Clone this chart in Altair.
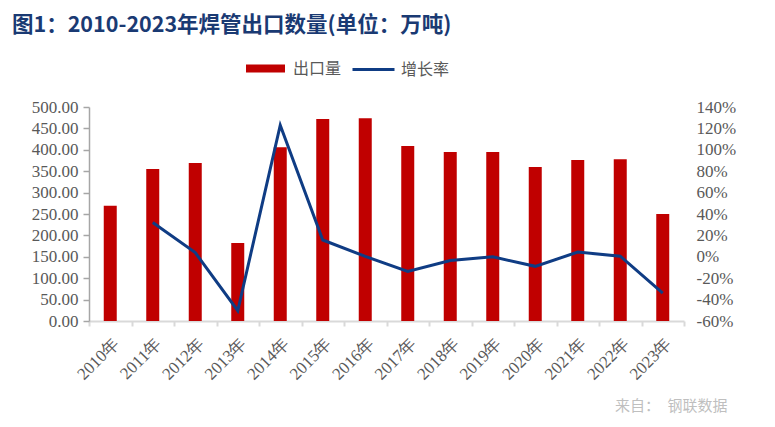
import altair as alt
import pandas as pd

years = ["2010年", "2011年", "2012年", "2013年", "2014年", "2015年", "2016年",
         "2017年", "2018年", "2019年", "2020年", "2021年", "2022年", "2023年"]
export_volume = [269, 355, 369, 182, 406, 472, 474, 409, 395, 395, 360, 376, 378, 250]
growth_rate = [None, 32.0, 3.9, -50.4, 123.0, 15.7, 0.4, -13.7, -3.5, 0.0, -8.9, 4.4, 0.6, -33.9]
left_ticks = [0, 50, 100, 150, 200, 250, 300, 350, 400, 450, 500]
right_ticks = [-60, -40, -20, 0, 20, 40, 60, 80, 100, 120, 140]

df = pd.DataFrame({"year": years, "export": export_volume, "growth": growth_rate})

LABEL_FONT = "Liberation Serif"
CJK_FONT = "Noto Sans CJK SC"
GRAY = "#595959"

x = alt.X(
    "year:N", sort=years,
    scale=alt.Scale(paddingInner=0, paddingOuter=0),
    axis=alt.Axis(
        title="来自：\u3000钢联数据", titleX=638, titleY=84, titleAlign="right",
        titleBaseline="middle", titleFont=CJK_FONT, titleFontSize=15,
        titleFontWeight="normal", titleColor="#bfbfbf",
        labelAngle=-45, labelAlign="right", labelBaseline="top",
        labelFont=LABEL_FONT, labelFontSize=17, labelColor=GRAY, labelPadding=9,
        domainColor="#d9d9d9", domainWidth=2, tickColor="#d9d9d9", tickWidth=2,
        tickSize=5, tickBand="extent", grid=False,
    ),
)

bars = alt.Chart(df).mark_bar(size=13).encode(
    x=x,
    y=alt.Y(
        "export:Q",
        scale=alt.Scale(domain=[0, 500], nice=False),
        axis=alt.Axis(
            values=left_ticks, format=".2f", title=None, grid=False,
            domainColor="#a6a6a6", domainWidth=1.5, tickColor="#a6a6a6",
            tickWidth=1.5, tickSize=6, labelFont=LABEL_FONT, labelFontSize=17,
            labelColor=GRAY, labelPadding=5,
        ),
    ),
    fill=alt.Fill(
        "s:N",
        scale=alt.Scale(domain=["出口量"], range=["#c00000"]),
        legend=alt.Legend(
            title=None, orient="none", legendX=157, legendY=-58,
            symbolType="M-1,-0.2L1,-0.2L1,0.2L-1,0.2Z", symbolSize=1521,
            symbolStrokeWidth=0, labelFont=CJK_FONT, labelFontSize=16,
            labelColor=GRAY, labelOffset=8, padding=0,
        ),
    ),
).transform_calculate(s="'出口量'")

line = alt.Chart(df).mark_line(strokeWidth=3).encode(
    x=x,
    y=alt.Y(
        "growth:Q",
        scale=alt.Scale(domain=[-60, 140], nice=False),
        axis=alt.Axis(
            orient="right", values=right_ticks, labelExpr="datum.value + '%'",
            title=None, grid=False, domain=False, ticks=False,
            labelFont=LABEL_FONT, labelFontSize=17, labelColor=GRAY,
            labelPadding=12,
        ),
    ),
    stroke=alt.Stroke(
        "t:N",
        scale=alt.Scale(domain=["增长率"], range=["#0f3c84"]),
        legend=alt.Legend(
            title=None, orient="none", legendX=262, legendY=-60,
            symbolType="stroke", symbolSize=1764, symbolStrokeWidth=3,
            labelFont=CJK_FONT, labelFontSize=16, labelColor=GRAY,
            labelOffset=5, padding=0,
        ),
    ),
).transform_calculate(t="'增长率'")

chart = alt.layer(bars, line).resolve_scale(y="independent").properties(
    width=595, height=214,
    padding={"top": 99, "left": 81, "right": 70, "bottom": 100},
    autosize=alt.AutoSizeParams(type="none"),
    title=alt.TitleParams(
        "图1：2010-2023年焊管出口数量(单位：万吨)", anchor="start", frame="group",
        dx=-77, offset=11, fontSize=21.5, font=CJK_FONT, fontWeight="bold",
        color="#1a3a73",
    ),
).configure_view(stroke=None)

chart.save("out.html", embed_options={"renderer": "svg", "actions": False})
